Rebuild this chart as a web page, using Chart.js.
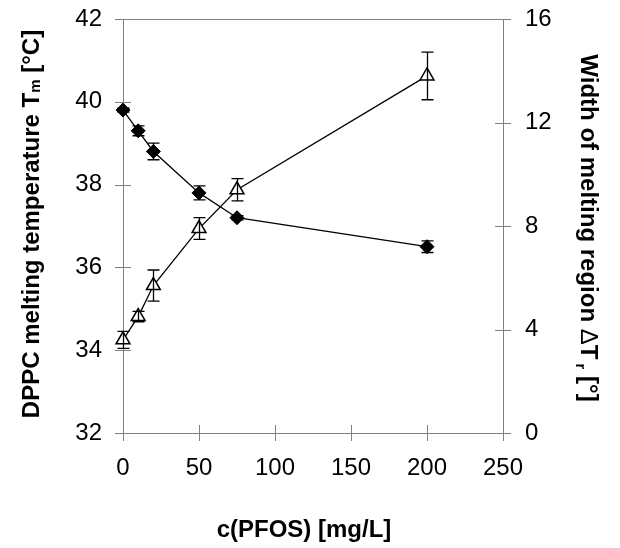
<!DOCTYPE html>
<html>
<head>
<meta charset="utf-8">
<script src="https://cdn.jsdelivr.net/npm/chart.js@4/dist/chart.umd.min.js"></script>
<style>
  html, body { margin: 0; padding: 0; background: #fff; }
  #wrap { width: 620px; height: 548px; position: relative; }
</style>
</head>
<body>
<div id="wrap"><canvas id="c" width="620" height="548"></canvas></div>
<script>
// ---- data ----
const concentrations = [0, 10, 20, 50, 75, 200];           // c(PFOS) [mg/L]
const meltingTemp    = [39.8, 39.3, 38.8, 37.8, 37.2, 36.5]; // Tm [°C]
const meltingTempErr = [0.05, 0.12, 0.2, 0.17, 0.05, 0.14];
const meltingWidth    = [3.6, 4.5, 5.7, 7.9, 9.4, 13.8];    // ΔTr [°]
const meltingWidthErr = [0.33, 0.2, 0.6, 0.42, 0.43, 0.92];
const xTicks  = [0, 50, 100, 150, 200, 250];
const yLTicks = [32, 34, 36, 38, 40, 42];
const yRTicks = [0, 4, 8, 12, 16];

const FONT = '"Liberation Sans", Arial, sans-serif';
const AXIS_COLOR = '#808080';

const tmPoints = concentrations.map((x, i) => ({x, y: meltingTemp[i], err: meltingTempErr[i]}));
const dtPoints = concentrations.map((x, i) => ({x, y: meltingWidth[i], err: meltingWidthErr[i]}));

// error bars + crossing tick marks + top border + titles
const decor = {
  id: 'decor',
  afterDatasetsDraw(chart) {
    const ctx = chart.ctx;
    ctx.save();
    ctx.strokeStyle = '#000';
    ctx.lineWidth = 1.3;
    chart.data.datasets.forEach((ds, di) => {
      const ys = chart.scales[ds.yAxisID];
      const xs = chart.scales.x;
      ds.data.forEach(p => {
        const px = Math.round(xs.getPixelForValue(p.x)) + 0.5;
        const top = ys.getPixelForValue(p.y + p.err);
        const bot = ys.getPixelForValue(p.y - p.err);
        ctx.beginPath();
        ctx.moveTo(px, top); ctx.lineTo(px, bot);
        ctx.moveTo(px - 6, top); ctx.lineTo(px + 6, top);
        ctx.moveTo(px - 6, bot); ctx.lineTo(px + 6, bot);
        ctx.stroke();
      });
    });
    ctx.restore();
  },
  afterDraw(chart) {
    const ctx = chart.ctx;
    const ca = chart.chartArea;
    ctx.save();
    ctx.strokeStyle = AXIS_COLOR;
    ctx.lineWidth = 1;
    const T = 8;
    // top border
    ctx.beginPath();
    ctx.moveTo(ca.left, Math.round(ca.top) + 0.5);
    ctx.lineTo(ca.right, Math.round(ca.top) + 0.5);
    ctx.stroke();
    // ticks
    const xs = chart.scales.x, yl = chart.scales.y, yr = chart.scales.y2;
    ctx.beginPath();
    xs.ticks.forEach(t => {
      const p = Math.round(xs.getPixelForValue(t.value)) + 0.5;
      ctx.moveTo(p, ca.bottom - T); ctx.lineTo(p, ca.bottom + T);
    });
    yl.ticks.forEach(t => {
      const p = Math.round(yl.getPixelForValue(t.value)) + 0.5;
      ctx.moveTo(ca.left - T, p); ctx.lineTo(ca.left + T, p);
    });
    yr.ticks.forEach(t => {
      const p = Math.round(yr.getPixelForValue(t.value)) + 0.5;
      ctx.moveTo(ca.right - T, p); ctx.lineTo(ca.right + T, p);
    });
    ctx.stroke();

    // titles
    ctx.fillStyle = '#000';
    ctx.textBaseline = 'alphabetic';
    const bold = 'bold 24px ' + FONT;
    const boldSmall = 'bold 15px ' + FONT;
    const reg = '24px ' + FONT;

    function runs(parts) {
      let w = 0;
      parts.forEach(p => { ctx.font = p.f; p.w = ctx.measureText(p.t).width; w += p.w; });
      return w;
    }
    function drawRuns(parts, startX, baseY) {
      let x = startX;
      parts.forEach(p => { ctx.font = p.f; ctx.textAlign = 'left'; ctx.fillText(p.t, x, baseY + (p.dy || 0)); x += p.w; });
    }

    // x title
    ctx.font = bold;
    ctx.textAlign = 'center';
    ctx.fillText('c(PFOS) [mg/L]', 304, 537);

    // left title
    const lp = [
      {t: 'DPPC melting temperature T', f: bold},
      {t: 'm', f: boldSmall, dy: 1},
      {t: ' [°C]', f: bold}
    ];
    const lw = runs(lp);
    ctx.save();
    ctx.translate(39, 224);
    ctx.rotate(-Math.PI / 2);
    drawRuns(lp, -lw / 2, 0);
    ctx.restore();

    // right title
    const rp = [
      {t: 'Width of melting region ', f: bold},
      {t: '\u0394', f: reg},
      {t: 'T', f: bold},
      {t: ' r', f: boldSmall, dy: 5},
      {t: ' [°]', f: bold}
    ];
    const rw = runs(rp);
    ctx.save();
    ctx.translate(581, 228);
    ctx.rotate(Math.PI / 2);
    drawRuns(rp, -rw / 2, 0);
    ctx.restore();

    ctx.restore();
  }
};

const tickFont = {family: FONT, size: 24};
const zeroPad = s => { s.paddingTop = 0; s.paddingBottom = 0; s.paddingLeft = 0; s.paddingRight = 0; };

new Chart(document.getElementById('c'), {
  type: 'scatter',
  data: {
    datasets: [
      {
        label: 'Tm',
        data: tmPoints,
        yAxisID: 'y',
        showLine: true,
        clip: false,
        borderColor: '#000',
        borderWidth: 1.3,
        backgroundColor: '#000',
        pointStyle: 'rectRot',
        pointRadius: 7,
        pointBorderWidth: 1,
        pointBorderColor: '#000',
        pointBackgroundColor: '#000'
      },
      {
        label: 'dT',
        data: dtPoints,
        yAxisID: 'y2',
        showLine: true,
        clip: false,
        borderColor: '#000',
        borderWidth: 1.3,
        pointStyle: 'triangle',
        pointRadius: 8,
        pointBorderWidth: 1.5,
        pointBorderColor: '#000',
        pointBackgroundColor: '#fff'
      }
    ]
  },
  options: {
    responsive: false,
    animation: false,
    events: [],
    layout: {autoPadding: false, padding: {top: 19, left: 0, right: 0, bottom: 0}},
    plugins: {legend: {display: false}, tooltip: {enabled: false}},
    scales: {
      x: {
        type: 'linear',
        min: xTicks[0], max: xTicks[xTicks.length - 1],
        afterBuildTicks: s => { s.ticks = xTicks.map(v => ({value: v})); },
        afterFit: s => { s.height = 115; zeroPad(s); },
        grid: {display: true, drawOnChartArea: false, drawTicks: false},
        border: {display: true, color: AXIS_COLOR, width: 1},
        ticks: {font: tickFont, color: '#000', padding: 21, maxRotation: 0}
      },
      y: {
        type: 'linear', position: 'left',
        min: yLTicks[0], max: yLTicks[yLTicks.length - 1],
        afterBuildTicks: s => { s.ticks = yLTicks.map(v => ({value: v})); },
        afterFit: s => { s.width = 123; zeroPad(s); },
        grid: {display: true, drawOnChartArea: false, drawTicks: false},
        border: {display: true, color: AXIS_COLOR, width: 1},
        ticks: {font: tickFont, color: '#000', padding: 21}
      },
      y2: {
        type: 'linear', position: 'right',
        min: yRTicks[0], max: yRTicks[yRTicks.length - 1],
        afterBuildTicks: s => { s.ticks = yRTicks.map(v => ({value: v})); },
        afterFit: s => { s.width = 117; zeroPad(s); },
        grid: {display: true, drawOnChartArea: false, drawTicks: false},
        border: {display: true, color: AXIS_COLOR, width: 1},
        ticks: {font: tickFont, color: '#000', padding: 22}
      }
    }
  },
  plugins: [decor]
});
</script>
</body>
</html>
